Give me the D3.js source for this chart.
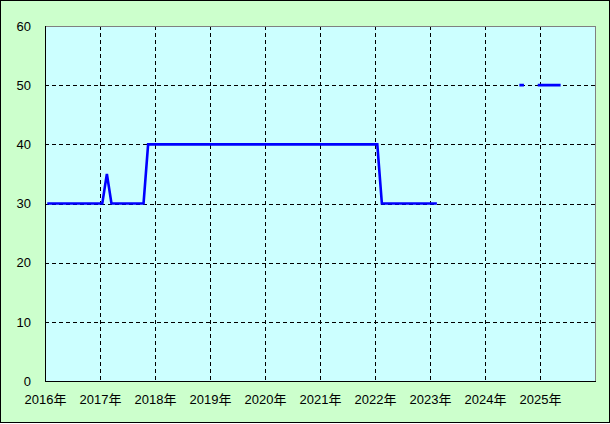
<!DOCTYPE html>
<html>
<head>
<meta charset="utf-8">
<script src="https://cdn.jsdelivr.net/npm/d3@7/dist/d3.min.js"></script>
<style>
  html, body { margin: 0; padding: 0; background: #ffffff; }
  svg { display: block; }
  text { font-family: "Liberation Sans", "Noto Sans CJK JP", sans-serif; }
</style>
</head>
<body>
<svg id="chart" width="610" height="424"></svg>
<script>
// ---- data (monthly, starting January 2016; null = no value) ----
const startYear = 2016;
const yearLabels = ["2016年", "2017年", "2018年", "2019年", "2020年", "2021年", "2022年", "2023年", "2024年", "2025年"];
const yTicks = [0, 10, 20, 30, 40, 50, 60];
const values2016 = [30, 30, 30, 30, 30, 30, 30, 30, 30, 30, 30, 30];
const values2017 = [30, 35, 30, 30, 30, 30, 30, 30, 30, 30, 40, 40];
const values2018 = [40, 40, 40, 40, 40, 40, 40, 40, 40, 40, 40, 40];
const values2019 = [40, 40, 40, 40, 40, 40, 40, 40, 40, 40, 40, 40];
const values2020 = [40, 40, 40, 40, 40, 40, 40, 40, 40, 40, 40, 40];
const values2021 = [40, 40, 40, 40, 40, 40, 40, 40, 40, 40, 40, 40];
const values2022 = [40, 30, 30, 30, 30, 30, 30, 30, 30, 30, 30, 30];
const values2023 = [30, 30, null, null, null, null, null, null, null, null, null, null];
const values2024 = [null, null, null, null, null, null, null, 50, 50, null, null, 50];
const values2025 = [50, 50, 50, 50, 50];

const values = [].concat(values2016, values2017, values2018, values2019, values2020,
  values2021, values2022, values2023, values2024, values2025);

// ---- layout ----
const W = 610, H = 424;
const plot = { left: 45, top: 26, right: 595, bottom: 381 };

const svg = d3.select("#chart");

// outer background
svg.append("rect")
  .attr("x", 0.5).attr("y", 0.5)
  .attr("width", W - 1).attr("height", H - 2)
  .attr("fill", "#ccffcc")
  .attr("stroke", "#000000").attr("stroke-width", 1);

// scales: x in months since Jan 2016 (10 years shown)
const x = d3.scaleLinear().domain([0, yearLabels.length * 12]).range([plot.left, plot.right]);
const y = d3.scaleLinear().domain([0, 60]).range([plot.bottom, plot.top]);

// plot area
svg.append("rect")
  .attr("x", plot.left).attr("y", plot.top)
  .attr("width", plot.right - plot.left).attr("height", plot.bottom - plot.top)
  .attr("fill", "#ccffff");

// gridlines
const xGridVals = d3.range(1, yearLabels.length).map(i => i * 12);
svg.append("g").selectAll("line").data(xGridVals).join("line")
  .attr("x1", d => Math.round(x(d)) + 0.5).attr("x2", d => Math.round(x(d)) + 0.5)
  .attr("y1", plot.top).attr("y2", plot.bottom)
  .attr("stroke", "#000").attr("stroke-width", 1).attr("stroke-dasharray", "4,3");
svg.append("g").selectAll("line").data(yTicks.filter(v => v > 0 && v < 60)).join("line")
  .attr("x1", plot.left).attr("x2", plot.right)
  .attr("y1", d => Math.round(y(d)) + 0.5).attr("y2", d => Math.round(y(d)) + 0.5)
  .attr("stroke", "#000").attr("stroke-width", 1).attr("stroke-dasharray", "4,3");

// plot borders
svg.append("line").attr("x1", plot.left).attr("x2", plot.right + 0.5)
  .attr("y1", plot.top + 0.5).attr("y2", plot.top + 0.5).attr("stroke", "#808080");
svg.append("line").attr("x1", plot.right + 0.5).attr("x2", plot.right + 0.5)
  .attr("y1", plot.top).attr("y2", plot.bottom).attr("stroke", "#808080");
svg.append("line").attr("x1", plot.left + 0.5).attr("x2", plot.left + 0.5)
  .attr("y1", plot.top).attr("y2", plot.bottom + 1).attr("stroke", "#000");
svg.append("line").attr("x1", plot.left).attr("x2", plot.right + 1)
  .attr("y1", plot.bottom + 0.5).attr("y2", plot.bottom + 0.5).attr("stroke", "#000");

// axes (labels only)
const yAxis = d3.axisLeft(y).tickValues(yTicks).tickSize(0).tickPadding(14);
const gy = svg.append("g").attr("transform", `translate(${plot.left},0)`).call(yAxis);
gy.select(".domain").remove();
gy.selectAll("text").attr("font-size", 13).attr("fill", "#000")
  .attr("font-family", "'Liberation Sans', 'Noto Sans CJK JP', sans-serif");

const xAxis = d3.axisBottom(x)
  .tickValues(yearLabels.map((_, i) => i * 12))
  .tickFormat((d, i) => yearLabels[i])
  .tickSize(0).tickPadding(14);
const gx = svg.append("g").attr("transform", `translate(0,${plot.bottom})`).call(xAxis);
gx.select(".domain").remove();
gx.selectAll("text").attr("font-size", 13).attr("fill", "#000")
  .attr("font-family", "'Liberation Sans', 'Noto Sans CJK JP', sans-serif");

// series line (points at mid-month)
const pts = values.map((v, i) => ({ i, v }));
const line = d3.line()
  .defined(d => d.v !== null)
  .x(d => x(d.i + 0.5))
  .y(d => y(d.v));
svg.append("path")
  .datum(pts)
  .attr("d", line)
  .attr("fill", "none")
  .attr("stroke", "#0000ff")
  .attr("stroke-width", 2.6)
  .attr("stroke-linejoin", "miter");
</script>
</body>
</html>
